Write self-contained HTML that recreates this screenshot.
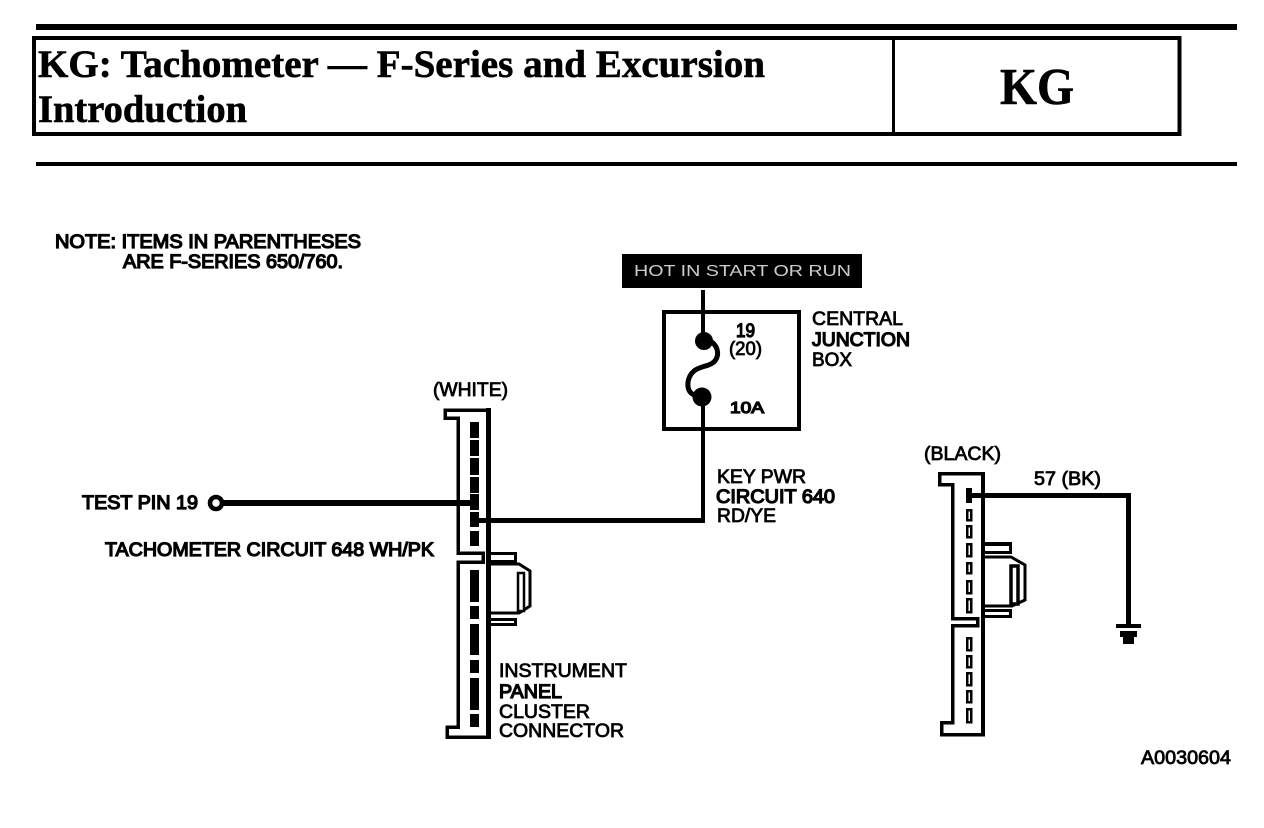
<!DOCTYPE html>
<html lang="en">
<head>
<meta charset="utf-8">
<title>KG: Tachometer</title>
<style>
html,body{margin:0;padding:0;background:#fff;width:1264px;height:828px;overflow:hidden}
svg{display:block}
.s{font-family:"Liberation Serif",serif;font-weight:bold;fill:#000;stroke:#000;stroke-width:.6}
.l{font-family:"Liberation Sans",sans-serif;font-size:19px;fill:#000;stroke:#000;stroke-width:.8}
.b{stroke-width:1.3}
.w{fill:#fff;stroke:none;font-size:16px;opacity:.8}
</style>
</head>
<body>
<svg xmlns="http://www.w3.org/2000/svg" width="1264" height="828" viewBox="0 0 1264 828">
<rect width="1264" height="828" fill="#fff"/>
<g shape-rendering="crispEdges">
<rect x="36" y="24" width="1201" height="6"/>
<rect x="36" y="162" width="1201" height="4"/>
<rect x="34" y="38" width="1145.5" height="96" fill="none" stroke="#000" stroke-width="4"/>
<rect x="892" y="37" width="3" height="97"/>
</g>
<text class="s" x="38" y="77" font-size="39" textLength="727" lengthAdjust="spacingAndGlyphs">KG: Tachometer — F-Series and Excursion</text>
<text class="s" x="38" y="122" font-size="39" textLength="209" lengthAdjust="spacingAndGlyphs">Introduction</text>
<text class="s" x="1000" y="104" font-size="52" textLength="74" lengthAdjust="spacingAndGlyphs">KG</text>

<text class="l b" x="55" y="248" textLength="306" lengthAdjust="spacingAndGlyphs">NOTE: ITEMS IN PARENTHESES</text>
<text class="l b" x="123" y="268" textLength="220" lengthAdjust="spacingAndGlyphs">ARE F-SERIES 650/760.</text>

<g shape-rendering="crispEdges">
<rect x="622" y="254" width="240" height="34"/>
<rect x="701" y="290" width="4" height="20"/>
<rect x="664" y="312" width="135" height="117" fill="none" stroke="#000" stroke-width="4"/>
<rect x="701" y="312" width="4" height="30"/>
<rect x="701" y="397" width="4" height="123"/>
</g>
<text class="l w" x="634" y="276" textLength="217" lengthAdjust="spacingAndGlyphs">HOT IN START OR RUN</text>
<circle cx="704" cy="341" r="9"/>
<circle cx="702" cy="397" r="9.5"/>
<path d="M708 340 C716 343 719 351 717 357 C714 367 701 365 694 371 C687 377 686 388 691 393 L698 398" fill="none" stroke="#000" stroke-width="5"/>
<circle cx="216" cy="503" r="6" fill="#fff" stroke="#000" stroke-width="4.5"/>

<text class="l" x="812" y="325" textLength="91" lengthAdjust="spacingAndGlyphs">CENTRAL</text>
<text class="l b" x="812" y="346" textLength="98" lengthAdjust="spacingAndGlyphs">JUNCTION</text>
<text class="l" x="812" y="366" textLength="40" lengthAdjust="spacingAndGlyphs">BOX</text>
<text class="l b" x="736" y="337" textLength="19" lengthAdjust="spacingAndGlyphs">19</text>
<text class="l" x="729" y="355" textLength="33" lengthAdjust="spacingAndGlyphs">(20)</text>
<text class="l b" x="730" y="413" font-size="16" style="font-size:16px" textLength="34" lengthAdjust="spacingAndGlyphs">10A</text>
<text class="l" x="433" y="396" textLength="75" lengthAdjust="spacingAndGlyphs">(WHITE)</text>
<text class="l" x="717" y="483" textLength="89" lengthAdjust="spacingAndGlyphs">KEY PWR</text>
<text class="l b" x="716" y="503" textLength="119" lengthAdjust="spacingAndGlyphs">CIRCUIT 640</text>
<text class="l" x="717" y="522" textLength="59" lengthAdjust="spacingAndGlyphs">RD/YE</text>
<text class="l b" x="82" y="509" textLength="116" lengthAdjust="spacingAndGlyphs">TEST PIN 19</text>
<text class="l b" x="105" y="556" textLength="329" lengthAdjust="spacingAndGlyphs">TACHOMETER CIRCUIT 648 WH/PK</text>
<text class="l" x="499" y="677" textLength="128" lengthAdjust="spacingAndGlyphs">INSTRUMENT</text>
<text class="l b" x="499" y="698" textLength="63" lengthAdjust="spacingAndGlyphs">PANEL</text>
<text class="l" x="499" y="718" textLength="91" lengthAdjust="spacingAndGlyphs">CLUSTER</text>
<text class="l" x="499" y="737" textLength="125" lengthAdjust="spacingAndGlyphs">CONNECTOR</text>
<text class="l" x="924" y="460" textLength="77" lengthAdjust="spacingAndGlyphs">(BLACK)</text>
<text class="l" x="1034" y="485" textLength="67" lengthAdjust="spacingAndGlyphs">57 (BK)</text>
<text class="l" x="1141" y="764" textLength="90" lengthAdjust="spacingAndGlyphs">A0030604</text>

<!-- White connector -->
<g shape-rendering="crispEdges">
<path d="M445 410 H489 V737 H447 V727 H458 V562 H483 V553 H458 V418 H445 Z" fill="#fff" stroke="#000" stroke-width="3.5"/>
<rect x="486" y="408" width="5" height="331"/>
<rect x="470" y="422" width="9" height="16"/>
<rect x="470" y="440" width="9" height="16"/>
<rect x="470" y="458" width="9" height="17"/>
<rect x="470" y="477" width="9" height="16"/>
<rect x="470" y="494" width="9" height="16"/>
<rect x="470" y="512" width="9" height="15"/>
<rect x="470" y="531" width="9" height="15"/>
<rect x="470" y="570" width="9" height="32"/>
<rect x="470" y="606" width="9" height="13"/>
<rect x="470" y="624" width="9" height="31"/>
<rect x="470" y="660" width="9" height="13"/>
<rect x="470" y="678" width="9" height="32"/>
<rect x="470" y="714" width="9" height="13"/>
<rect x="491" y="552" width="25" height="3"/>
<rect x="491" y="560" width="25" height="3"/>
<rect x="514" y="552" width="3" height="11"/>
<rect x="491" y="618" width="25" height="3"/>
<rect x="491" y="623" width="25" height="3"/>
<rect x="514" y="618" width="3" height="8"/>
<rect x="223" y="500" width="252" height="6"/>
<rect x="475" y="518" width="230" height="5"/>
</g>
<path d="M491 564 H519 L530 571 V606 L519 613 H491" fill="#fff" stroke="#000" stroke-width="3"/>
<rect x="518" y="573" width="6" height="38" fill="#fff" stroke="#000" stroke-width="2.5"/>

<!-- Black connector -->
<g shape-rendering="crispEdges">
<path d="M939.5 473.5 H983 V734.5 H941.5 V722.5 H952.5 V625.5 H977.5 V618.5 H952.5 V484.5 H939.5 Z" fill="#fff" stroke="#000" stroke-width="3.5"/>
<rect x="981" y="472" width="4" height="264"/>
<rect x="966" y="488" width="6" height="15"/>
<g fill="#fff" stroke="#000" stroke-width="2.5">
<rect x="967" y="510" width="4" height="10"/>
<rect x="967" y="526" width="4" height="11"/>
<rect x="967" y="544" width="4" height="12"/>
<rect x="967" y="563" width="4" height="10"/>
<rect x="967" y="581" width="4" height="12"/>
<rect x="967" y="599" width="4" height="13"/>
<rect x="967" y="638" width="4" height="12"/>
<rect x="967" y="656" width="4" height="11"/>
<rect x="967" y="673" width="4" height="12"/>
<rect x="967" y="691" width="4" height="11"/>
<rect x="967" y="709" width="4" height="13"/>
</g>
<rect x="985" y="542" width="27" height="4"/>
<rect x="985" y="551" width="27" height="3"/>
<rect x="1009" y="542" width="3" height="12"/>
<rect x="985" y="609" width="27" height="3"/>
<rect x="985" y="615" width="27" height="3"/>
<rect x="1009" y="609" width="3" height="9"/>
<rect x="968" y="493" width="163" height="5"/>
<rect x="1126" y="493" width="5" height="132"/>
<rect x="1116" y="624" width="25" height="4"/>
<rect x="1120" y="631" width="17" height="6"/>
<rect x="1123" y="637" width="11" height="7"/>
</g>
<path d="M985 557 H1011 L1025 565 V600 L1012 606 H985" fill="#fff" stroke="#000" stroke-width="3"/>
<rect x="1011" y="566" width="7" height="38" fill="#fff" stroke="#000" stroke-width="3.5"/>
</svg>
</body>
</html>
